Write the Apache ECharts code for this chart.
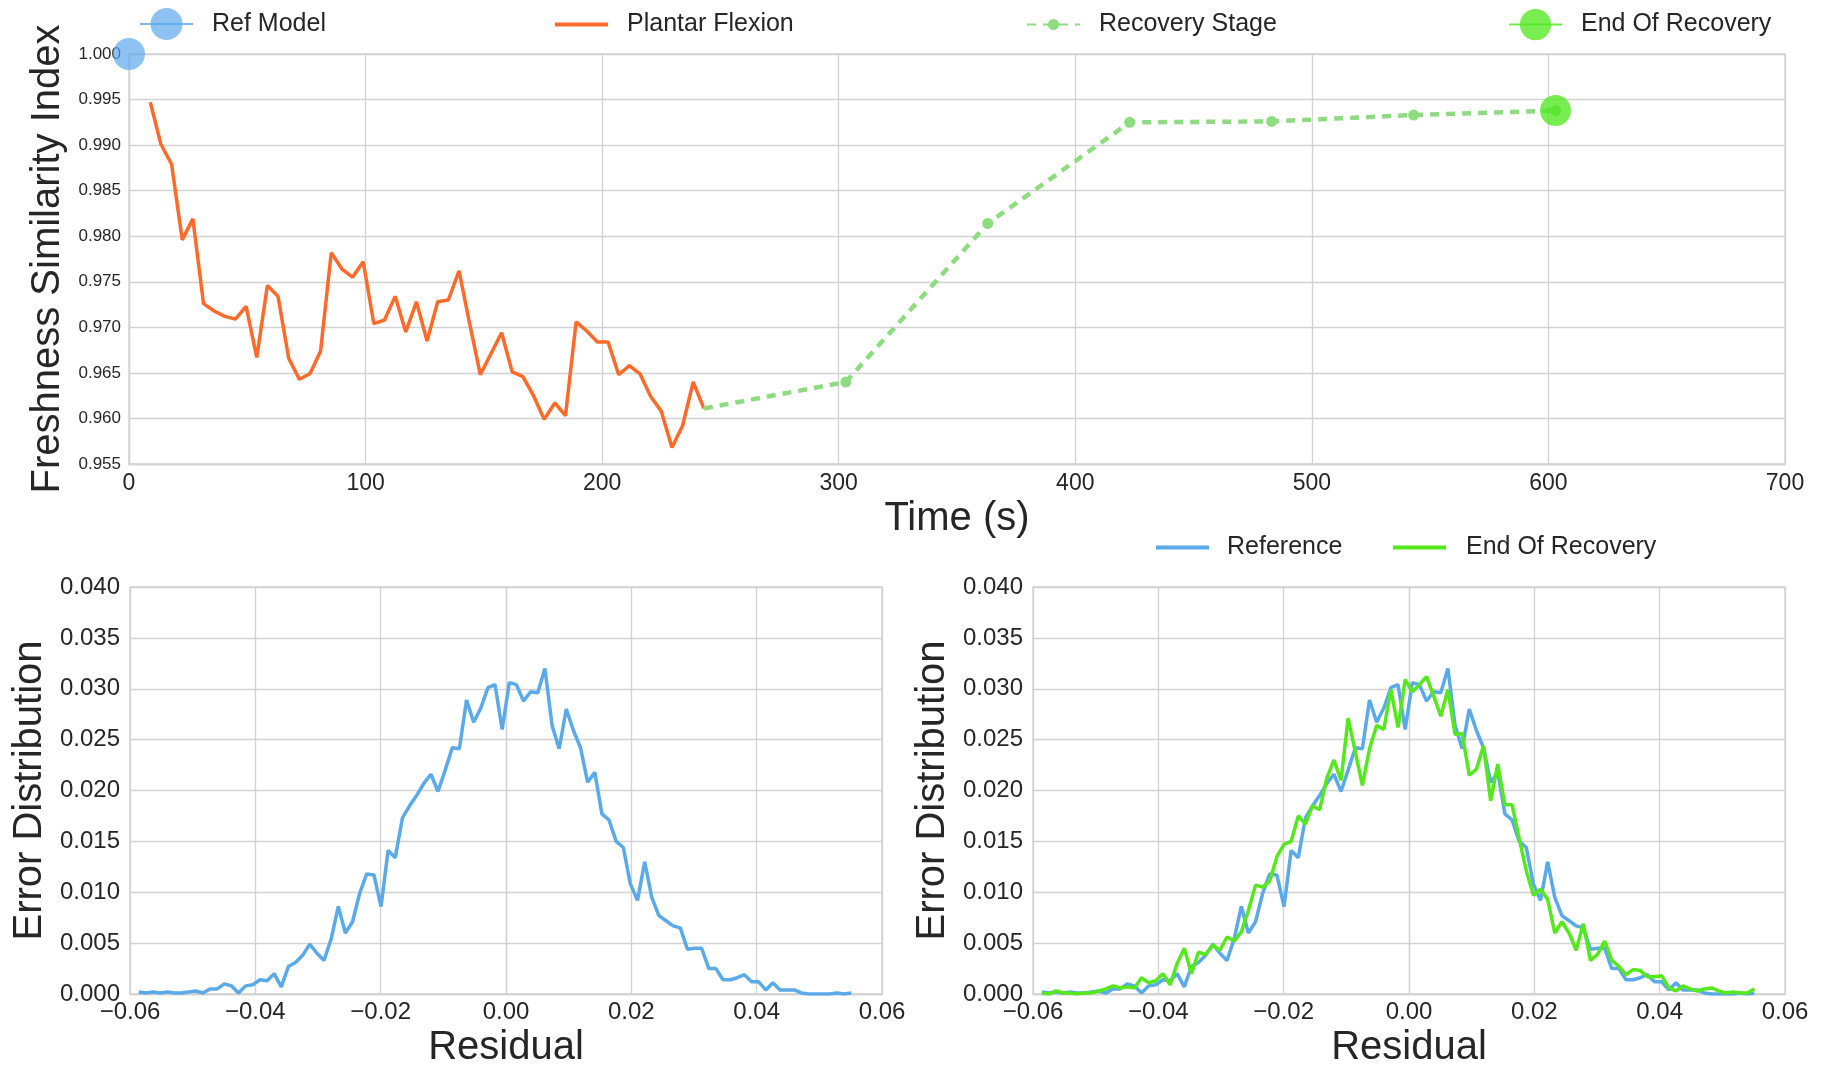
<!DOCTYPE html>
<html>
<head>
<meta charset="utf-8">
<title>Freshness Similarity</title>
<script src="https://cdn.jsdelivr.net/npm/echarts@6/dist/echarts.min.js"></script>
<style>
  html, body { margin: 0; padding: 0; background: #fff; }
  #chart { width: 1825px; height: 1069px; }
</style>
</head>
<body>
<div id="chart"></div>
<script>
// top panel: freshness similarity index over time
const flexionTime = [9, 13.5, 18, 22.5, 27, 31.5, 36, 40.5, 45, 49.5, 54, 58.5, 63, 67.5, 72, 76.5, 81, 85.5, 90, 94.5,
  99, 103.5, 108, 112.5, 117, 121.5, 126, 130.5, 135, 139.5, 144, 148.5, 153, 157.5, 162, 166.5, 171, 175.5, 180, 184.5,
  189, 193.5, 198, 202.5, 207, 211.5, 216, 220.5, 225, 229.5, 234, 238.5, 243];
const flexionIndex = [0.9947, 0.9901, 0.9879, 0.9796, 0.9819, 0.9726, 0.9718, 0.9712, 0.9709, 0.9723, 0.9667, 0.9746, 0.9734,
  0.9666, 0.9643, 0.9649, 0.9674, 0.9782, 0.9764, 0.9755, 0.9772, 0.9704, 0.9708, 0.9734, 0.9695, 0.9728, 0.9685, 0.9728,
  0.9730, 0.9762, 0.9704, 0.9648, 0.9671, 0.9694, 0.9651, 0.9646, 0.9625, 0.9599, 0.9617, 0.9603, 0.9706, 0.9696, 0.9684,
  0.9684, 0.9648, 0.9658, 0.9649, 0.9624, 0.9608, 0.9568, 0.9592, 0.9640, 0.9611];
const recoveryTime = [243, 303, 363, 423, 483, 543, 603];
const recoveryIndex = [0.9611, 0.9640, 0.9814, 0.9925, 0.9926, 0.9933, 0.9938];
const refTime = [0];
const refIndex = [1.0];
const endTime = [603];
const endIndex = [0.9938];

// bottom panels: residual distributions
const residualBins = [-0.05860, -0.05746, -0.05633, -0.05519, -0.05405, -0.05292, -0.05178, -0.05064, -0.04950, -0.04837,
  -0.04723, -0.04609, -0.04496, -0.04382, -0.04268, -0.04155, -0.04041, -0.03927, -0.03813, -0.03700,
  -0.03586, -0.03472, -0.03359, -0.03245, -0.03131, -0.03018, -0.02904, -0.02790, -0.02676, -0.02563,
  -0.02449, -0.02335, -0.02222, -0.02108, -0.01994, -0.01881, -0.01767, -0.01653, -0.01539, -0.01426,
  -0.01312, -0.01198, -0.01085, -0.00971, -0.00857, -0.00744, -0.00630, -0.00516, -0.00402, -0.00289,
  -0.00175, -0.00061, 0.00052, 0.00166, 0.00280, 0.00393, 0.00507, 0.00621, 0.00735, 0.00848,
  0.00962, 0.01076, 0.01189, 0.01303, 0.01417, 0.01530, 0.01644, 0.01758, 0.01872, 0.01985,
  0.02099, 0.02213, 0.02326, 0.02440, 0.02554, 0.02667, 0.02781, 0.02895, 0.03009, 0.03122,
  0.03236, 0.03350, 0.03463, 0.03577, 0.03691, 0.03804, 0.03918, 0.04032, 0.04146, 0.04259,
  0.04373, 0.04487, 0.04600, 0.04714, 0.04828, 0.04941, 0.05055, 0.05169, 0.05283, 0.05396, 0.05510];
const referenceDist = [0.0002, 0.0001, 0.0002, 0.0001, 0.0002, 0.0001, 0.0001, 0.0002, 0.0003, 0.0001,
  0.0005, 0.0005, 0.0010, 0.0008, 0.0001, 0.0008, 0.0009, 0.0014, 0.0013, 0.0020,
  0.0007, 0.0027, 0.0031, 0.0038, 0.0049, 0.0040, 0.0033, 0.0054, 0.0086, 0.0060,
  0.0071, 0.0099, 0.0118, 0.0117, 0.0086, 0.0141, 0.0134, 0.0173, 0.0185, 0.0195,
  0.0207, 0.0216, 0.0199, 0.0220, 0.0242, 0.0241, 0.0289, 0.0267, 0.0281, 0.0301,
  0.0304, 0.0260, 0.0306, 0.0304, 0.0288, 0.0297, 0.0296, 0.0320, 0.0264, 0.0241,
  0.0280, 0.0259, 0.0242, 0.0208, 0.0218, 0.0177, 0.0171, 0.0150, 0.0144, 0.0108,
  0.0092, 0.0130, 0.0095, 0.0077, 0.0072, 0.0067, 0.0065, 0.0044, 0.0045, 0.0045,
  0.0025, 0.0025, 0.0014, 0.0014, 0.0016, 0.0019, 0.0012, 0.0012, 0.0004, 0.0011,
  0.0004, 0.0004, 0.0004, 0.0001, 0.0000, 0.0000, 0.0000, 0.0000, 0.0001, 0.0000, 0.0001];
const endRecoveryDist = [0.0001, 0.0000, 0.0003, 0.0001, 0.0001, 0.0000, 0.0001, 0.0001, 0.0003, 0.0005,
  0.0008, 0.0006, 0.0007, 0.0006, 0.0016, 0.0011, 0.0013, 0.0020, 0.0009, 0.0030,
  0.0045, 0.0020, 0.0041, 0.0039, 0.0048, 0.0043, 0.0056, 0.0052, 0.0061, 0.0082,
  0.0107, 0.0105, 0.0111, 0.0135, 0.0147, 0.0150, 0.0175, 0.0167, 0.0185, 0.0181,
  0.0212, 0.0230, 0.0210, 0.0271, 0.0238, 0.0205, 0.0241, 0.0264, 0.0260, 0.0299,
  0.0262, 0.0309, 0.0297, 0.0304, 0.0312, 0.0293, 0.0273, 0.0299, 0.0255, 0.0256,
  0.0215, 0.0221, 0.0244, 0.0190, 0.0226, 0.0186, 0.0186, 0.0153, 0.0121, 0.0097,
  0.0103, 0.0093, 0.0060, 0.0071, 0.0060, 0.0043, 0.0069, 0.0033, 0.0039, 0.0052,
  0.0033, 0.0027, 0.0019, 0.0024, 0.0023, 0.0017, 0.0017, 0.0018, 0.0006, 0.0003,
  0.0008, 0.0005, 0.0003, 0.0005, 0.0006, 0.0003, 0.0001, 0.0002, 0.0001, 0.0001, 0.0005];

const FONT = 'Liberation Sans';
const TEXT = '#262626';
const GRID = '#d2d2d2';
const BLUE = '#5aa9e9';
const ORANGE = '#fd6a2a';
const LIGHTGREEN = '#8ddc7f';
const GREEN = '#55e81c';

function zip(xs, ys) {
  return xs.map((x, i) => [x, ys[i]]);
}
function minus(v, digits) {
  const s = Math.abs(v).toFixed(digits);
  return v < -1e-9 ? '\u2212' + s : s;
}

const splitLine = { show: true, lineStyle: { color: GRID, width: 1.3 } };
const axisLine = { show: true, lineStyle: { color: GRID, width: 1.3 } };

// one legend box per entry so each can sit where matplotlib put it
function legendItem(name, left, top, itemHeight, textPad, plainLine) {
  return {
    data: [plainLine ? { name: name, icon: 'rect' } : name],
    left: left,
    top: top,
    padding: 0,
    itemWidth: 53,
    itemHeight: itemHeight,
    selectedMode: false,
    textStyle: { fontFamily: FONT, fontSize: 25, color: TEXT, padding: [0, 0, 0, textPad] },
  };
}

function distAxes(gridIndex) {
  return {
    x: {
      type: 'value', gridIndex: gridIndex, min: -0.06, max: 0.06, interval: 0.02,
      name: 'Residual', nameLocation: 'middle', nameGap: 34,
      nameTextStyle: { fontFamily: FONT, fontSize: 40, color: TEXT },
      axisLine: axisLine, axisTick: { show: false }, splitLine: splitLine,
      axisLabel: { fontFamily: FONT, fontSize: 24, color: TEXT, margin: 6, formatter: v => minus(v, 2) },
    },
    y: {
      type: 'value', gridIndex: gridIndex, min: 0, max: 0.04, interval: 0.005,
      name: 'Error Distribution', nameLocation: 'middle', nameGap: 80,
      nameTextStyle: { fontFamily: FONT, fontSize: 40, color: TEXT },
      axisLine: axisLine, axisTick: { show: false }, splitLine: splitLine,
      axisLabel: { fontFamily: FONT, fontSize: 24, color: TEXT, margin: 10, formatter: v => v.toFixed(3) },
    },
  };
}

const left = distAxes(1);
const right = distAxes(2);

const chart = echarts.init(document.getElementById('chart'), null, { renderer: 'canvas' });
chart.setOption({
  animation: false,
  backgroundColor: '#fff',
  legend: [
    legendItem('Ref Model', 139, 8, 40, 14, false),
    legendItem('Plantar Flexion', 555, 12, 4, 14, true),
    legendItem('Recovery Stage', 1026, 12, 14, 14, false),
    legendItem('End Of Recovery', 1508, 9, 39, 14, false),
    legendItem('Reference', 1156, 535, 4, 13, true),
    legendItem('End Of Recovery ', 1393, 535, 4, 15, true),
  ],
  grid: [
    { left: 129, top: 54, width: 1656, height: 410, show: true, borderColor: GRID, borderWidth: 1.3 },
    { left: 130, top: 587, width: 752, height: 410, show: true, borderColor: GRID, borderWidth: 1.3 },
    { left: 1033, top: 587, width: 752, height: 410, show: true, borderColor: GRID, borderWidth: 1.3 },
  ],
  xAxis: [
    {
      type: 'value', gridIndex: 0, min: 0, max: 700, interval: 100,
      name: 'Time (s)', nameLocation: 'middle', nameGap: 35,
      nameTextStyle: { fontFamily: FONT, fontSize: 40, color: TEXT },
      axisLine: axisLine, axisTick: { show: false }, splitLine: splitLine,
      axisLabel: { fontFamily: FONT, fontSize: 23, color: TEXT, margin: 8 },
    },
    left.x,
    right.x,
  ],
  yAxis: [
    {
      type: 'value', gridIndex: 0, min: 0.955, max: 1.0, interval: 0.005,
      name: 'Freshness Similarity Index', nameLocation: 'middle', nameGap: 60,
      nameTextStyle: { fontFamily: FONT, fontSize: 40, color: TEXT },
      axisLine: axisLine, axisTick: { show: false }, splitLine: splitLine,
      axisLabel: { fontFamily: FONT, fontSize: 17, color: TEXT, margin: 8, formatter: v => v.toFixed(3) },
    },
    left.y,
    right.y,
  ],
  series: [
    {
      name: 'Plantar Flexion', type: 'line', xAxisIndex: 0, yAxisIndex: 0,
      data: zip(flexionTime, flexionIndex),
      symbol: 'none', color: ORANGE,
      lineStyle: { width: 3.5, color: ORANGE },
    },
    {
      name: 'Recovery Stage', type: 'line', xAxisIndex: 0, yAxisIndex: 0,
      data: zip(recoveryTime, recoveryIndex).map((p, i) => (i === 0 ? { value: p, symbol: 'none' } : p)),
      symbol: 'circle', symbolSize: 11, showAllSymbol: true, color: LIGHTGREEN,
      itemStyle: { color: LIGHTGREEN },
      lineStyle: { width: 4.5, color: LIGHTGREEN, type: [9, 7] },
    },
    {
      name: 'Ref Model', type: 'line', xAxisIndex: 0, yAxisIndex: 0, clip: false, z: 5,
      data: zip(refTime, refIndex),
      symbol: 'circle', symbolSize: 32, color: '#5da8ec',
      itemStyle: { color: '#5da8ec', opacity: 0.7 },
      lineStyle: { width: 2, color: '#5da8ec', opacity: 0.8 },
    },
    {
      name: 'End Of Recovery', type: 'line', xAxisIndex: 0, yAxisIndex: 0, clip: false, z: 5,
      data: zip(endTime, endIndex),
      symbol: 'circle', symbolSize: 31, color: '#4ce81a',
      itemStyle: { color: '#4ce81a', opacity: 0.75 },
      lineStyle: { width: 2, color: '#4ce81a', opacity: 0.8 },
    },
    {
      name: 'Reference', type: 'line', xAxisIndex: 1, yAxisIndex: 1,
      data: zip(residualBins, referenceDist),
      symbol: 'none', color: BLUE, lineStyle: { width: 3.5, color: BLUE },
    },
    {
      name: 'Reference', type: 'line', xAxisIndex: 2, yAxisIndex: 2,
      data: zip(residualBins, referenceDist),
      symbol: 'none', color: BLUE, lineStyle: { width: 3.5, color: BLUE },
    },
    {
      name: 'End Of Recovery ', type: 'line', xAxisIndex: 2, yAxisIndex: 2,
      data: zip(residualBins, endRecoveryDist),
      symbol: 'none', color: GREEN, lineStyle: { width: 3.5, color: GREEN },
    },
  ],
});
</script>
</body>
</html>
